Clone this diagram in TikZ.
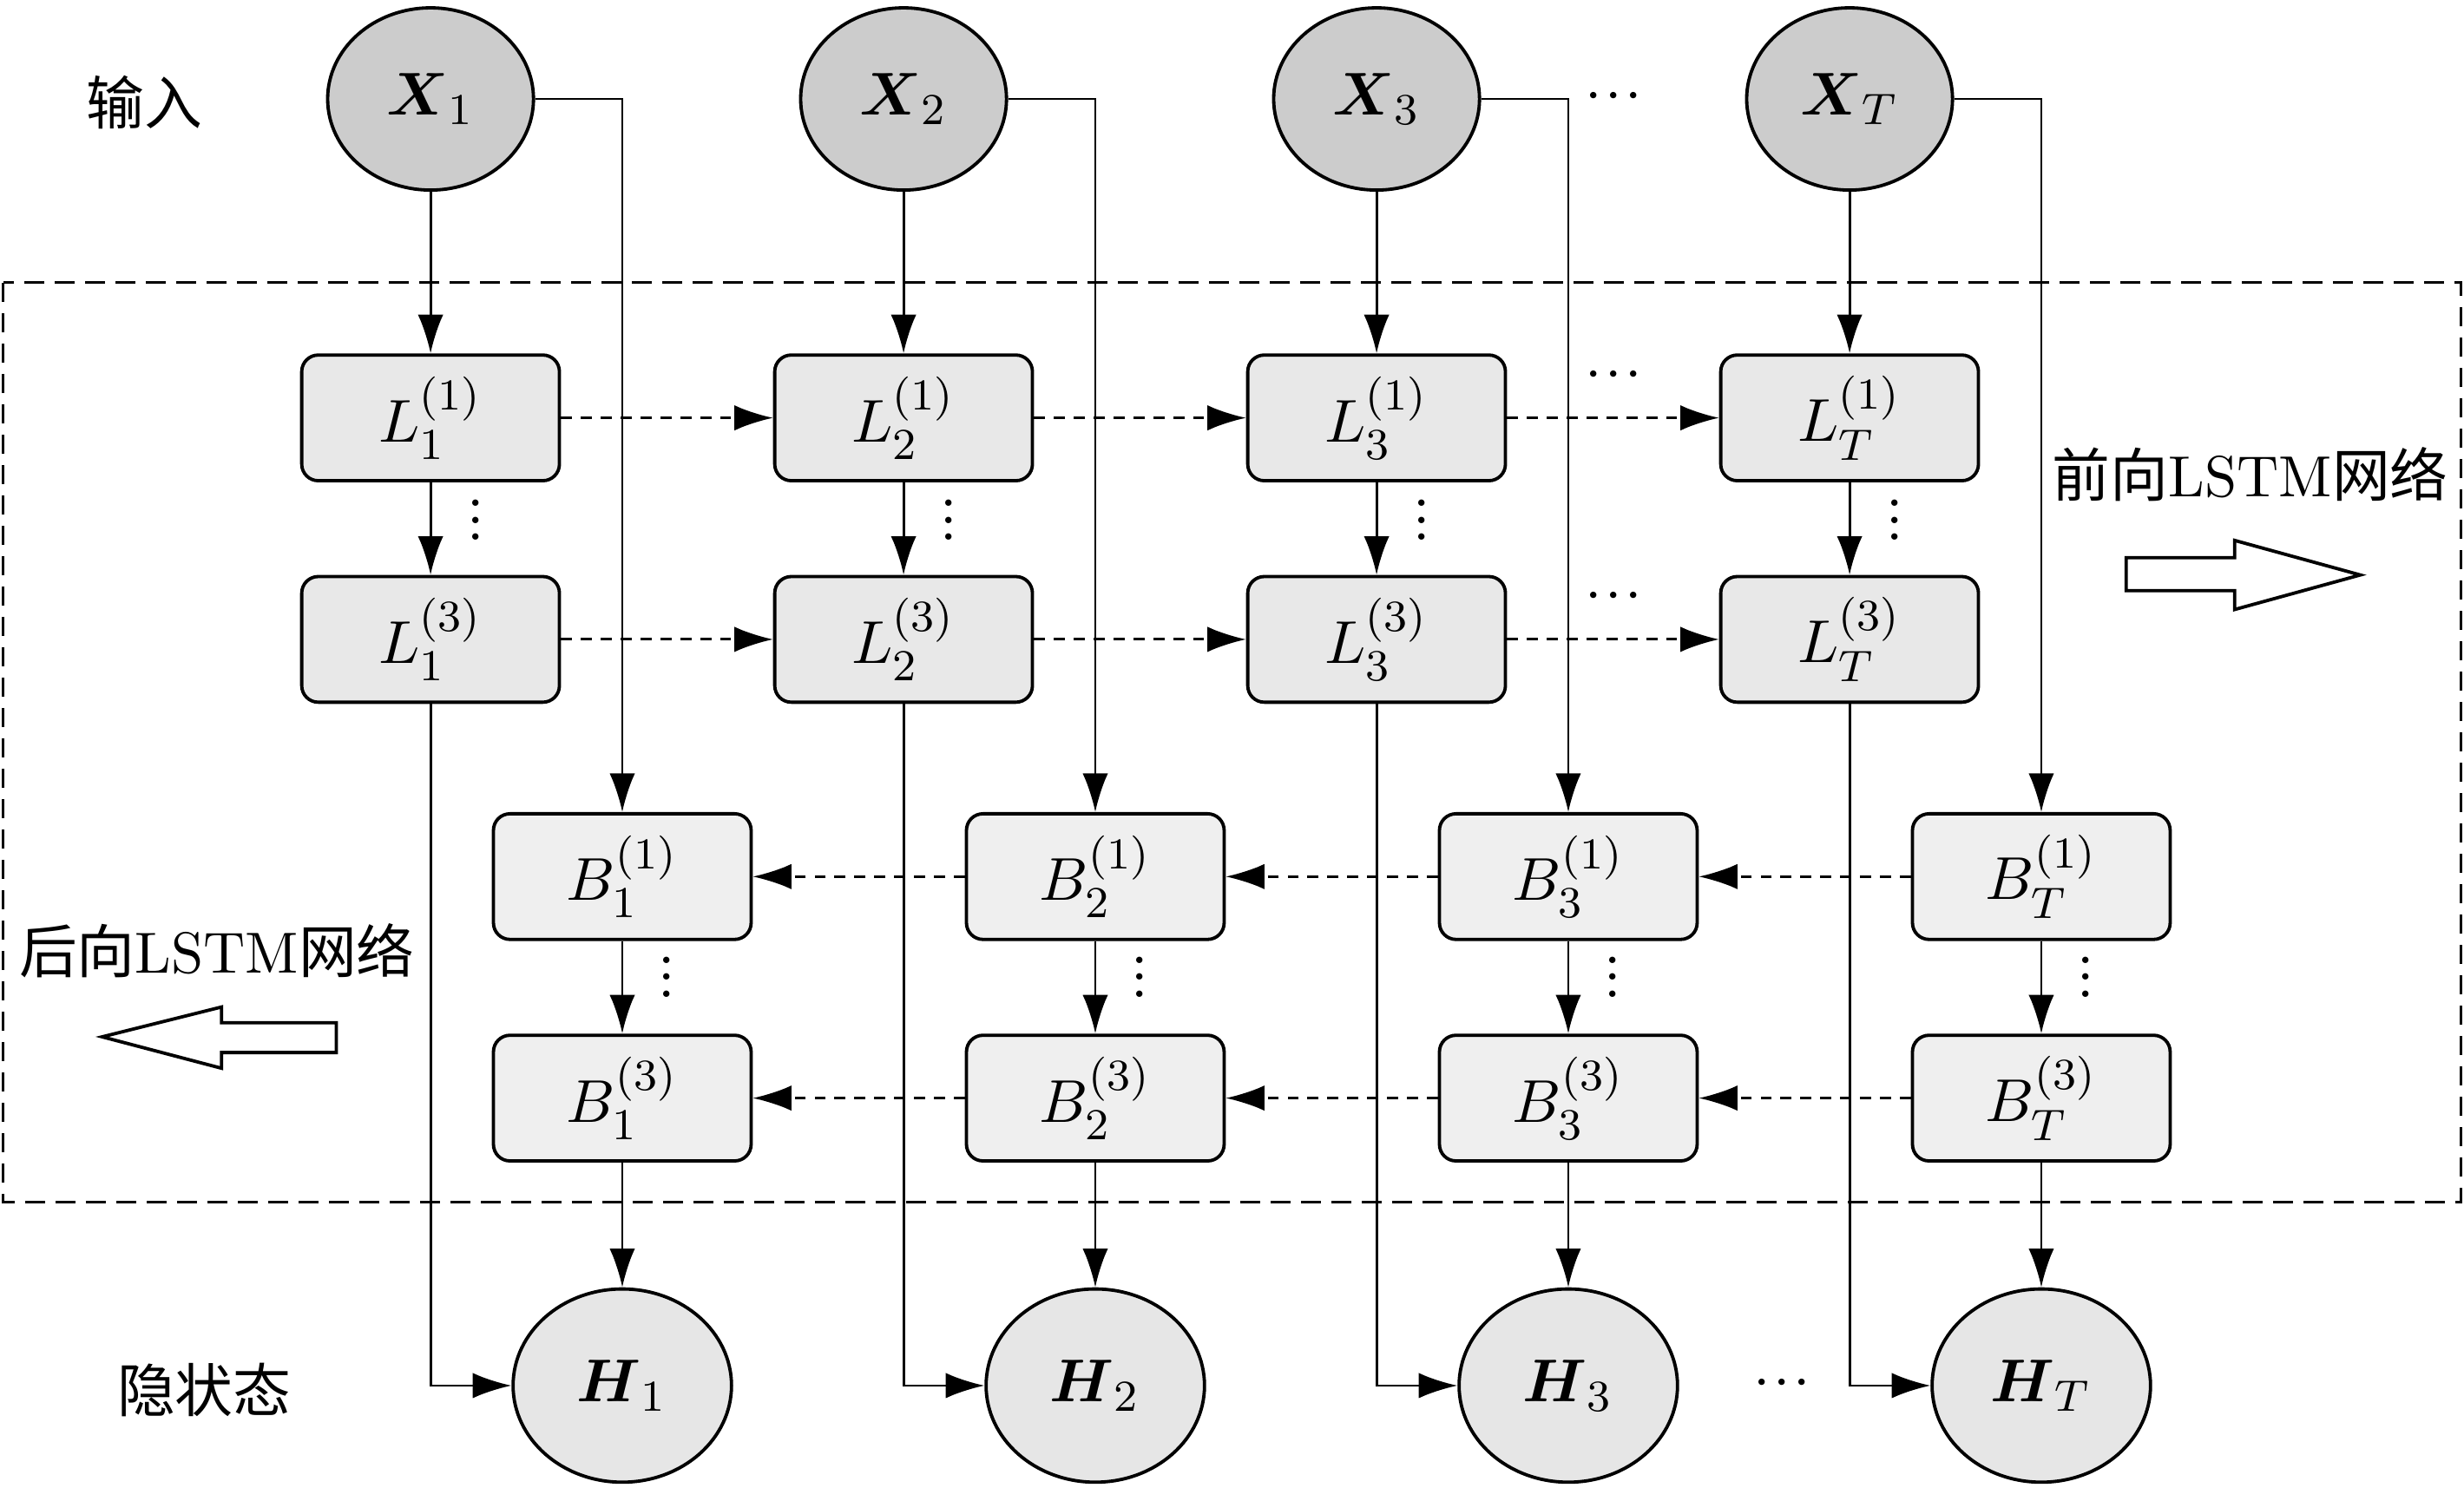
\documentclass[tikz,border=0pt]{standalone}
\usepackage{fontspec}
\usepackage{amsmath}
\usepackage{tikz}
\usetikzlibrary{positioning, arrows.meta, calc, shapes.geometric}
\newfontfamily\cjk{Noto Sans CJK SC}
\definecolor{inputgray}{HTML}{CCCCCC}
\definecolor{fwgray}{HTML}{E8E8E8}
\definecolor{bwgray}{HTML}{EFEFEF}
\definecolor{hidgray}{HTML}{E6E6E6}
\newcommand{\rowdots}{${\cdot}\mkern1mu{\cdot}\mkern1mu{\cdot}$}
\newcommand{\coldots}{\vbox{\baselineskip3.1pt\lineskiplimit0pt\hbox{.}\hbox{.}\hbox{.}}}

\begin{document}
\begin{tikzpicture}[font=\fontsize{10.95}{13}\selectfont,
    >={Latex[length=7pt,width=4.6pt]},
    inp/.style={ellipse, draw, line width=0.6pt, fill=inputgray,
                minimum width=1.31cm, minimum height=1.16cm, inner sep=0pt},
    hid/.style={ellipse, draw, line width=0.6pt, fill=hidgray,
                minimum width=1.39cm, minimum height=1.23cm, inner sep=0pt},
    cell/.style={draw, line width=0.6pt, rounded corners=3pt,
                 minimum width=1.64cm, minimum height=0.80cm},
    conn/.style={->, line width=0.45pt},
    rec/.style={->, line width=0.45pt, dash pattern=on 2pt off 1.6pt},
    dots/.style={inner sep=0pt},
    lab/.style={font=\fontsize{10.5}{12}\selectfont}]
  \useasboundingbox (0,0) rectangle (15.68,-9.47);

  % dashed frame round both LSTM layers
  \draw[line width=0.5pt, dash pattern=on 3.5pt off 2pt] (0.02,-1.80) rectangle (15.66,-7.65);

  % one column per time step
  \foreach \i/\t/\x in {1/1/2.74, 2/2/5.75, 3/3/8.76, 4/T/11.77} {
    \node[inp] (X\i) at (\x,-0.63) {$\boldsymbol{X}_{\t}$};
    \node[cell, fill=fwgray] (La\i) at (\x,-2.66) {$L_{\t}^{(1)}$};
    \node[cell, fill=fwgray] (Lb\i) at (\x,-4.07) {$L_{\t}^{(3)}$};
    \node[cell, fill=bwgray] (Ba\i) at (\x+1.22,-5.58) {$B_{\t}^{(1)}$};
    \node[cell, fill=bwgray] (Bb\i) at (\x+1.22,-6.99) {$B_{\t}^{(3)}$};
    \node[hid] (H\i) at (\x+1.22,-8.82) {$\boldsymbol{H}_{\t}$};
    \node[dots] (vL\i) at (\x+0.29,-3.31) {\coldots};
    \node[dots] (vB\i) at (\x+1.50,-6.22) {\coldots};
    \draw[conn] (X\i) -- (La\i);
    \draw[conn] (X\i.east) -| (Ba\i.north);
    \draw[conn] (La\i) -- (Lb\i);
    \draw[conn] (Ba\i) -- (Bb\i);
    \draw[conn] (Bb\i) -- (H\i);
    \draw[conn] (Lb\i.south) |- (H\i.west);
  }

  % recurrent links
  \foreach \i/\j in {1/2, 2/3, 3/4} {
    \draw[rec] (La\i) -- (La\j);
    \draw[rec] (Lb\i) -- (Lb\j);
    \draw[rec] (Ba\j) -- (Ba\i);
    \draw[rec] (Bb\j) -- (Bb\i);
  }

  \node[dots] (hX) at (10.27,-0.62) {\rowdots};
  \node[dots] (hLa) at (10.27,-2.39) {\rowdots};
  \node[dots] (hLb) at (10.27,-3.80) {\rowdots};
  \node[dots] (hH) at (11.34,-8.81) {\rowdots};

  % labels
  \node[lab] (inlab) at (0.92,-0.65) {\cjk 输入};
  \node[lab] (hidlab) at (1.30,-8.85) {\cjk 隐状态};
  \node[lab] (fwlab) at (14.32,-3.02) {{\cjk 前向}LSTM{\cjk 网络}};
  \node[lab] (bwlab) at (1.38,-6.05) {{\cjk 后向}LSTM{\cjk 网络}};

  % hollow direction arrows
  \draw[line width=0.6pt] (13.53,-3.55) -- (14.22,-3.55) -- (14.22,-3.44) -- (15.02,-3.66)
    -- (14.22,-3.88) -- (14.22,-3.76) -- (13.53,-3.76) -- cycle;
  \draw[line width=0.6pt] (2.14,-6.51) -- (1.41,-6.51) -- (1.41,-6.41) -- (0.65,-6.60)
    -- (1.41,-6.80) -- (1.41,-6.70) -- (2.14,-6.70) -- cycle;
\end{tikzpicture}
\end{document}
